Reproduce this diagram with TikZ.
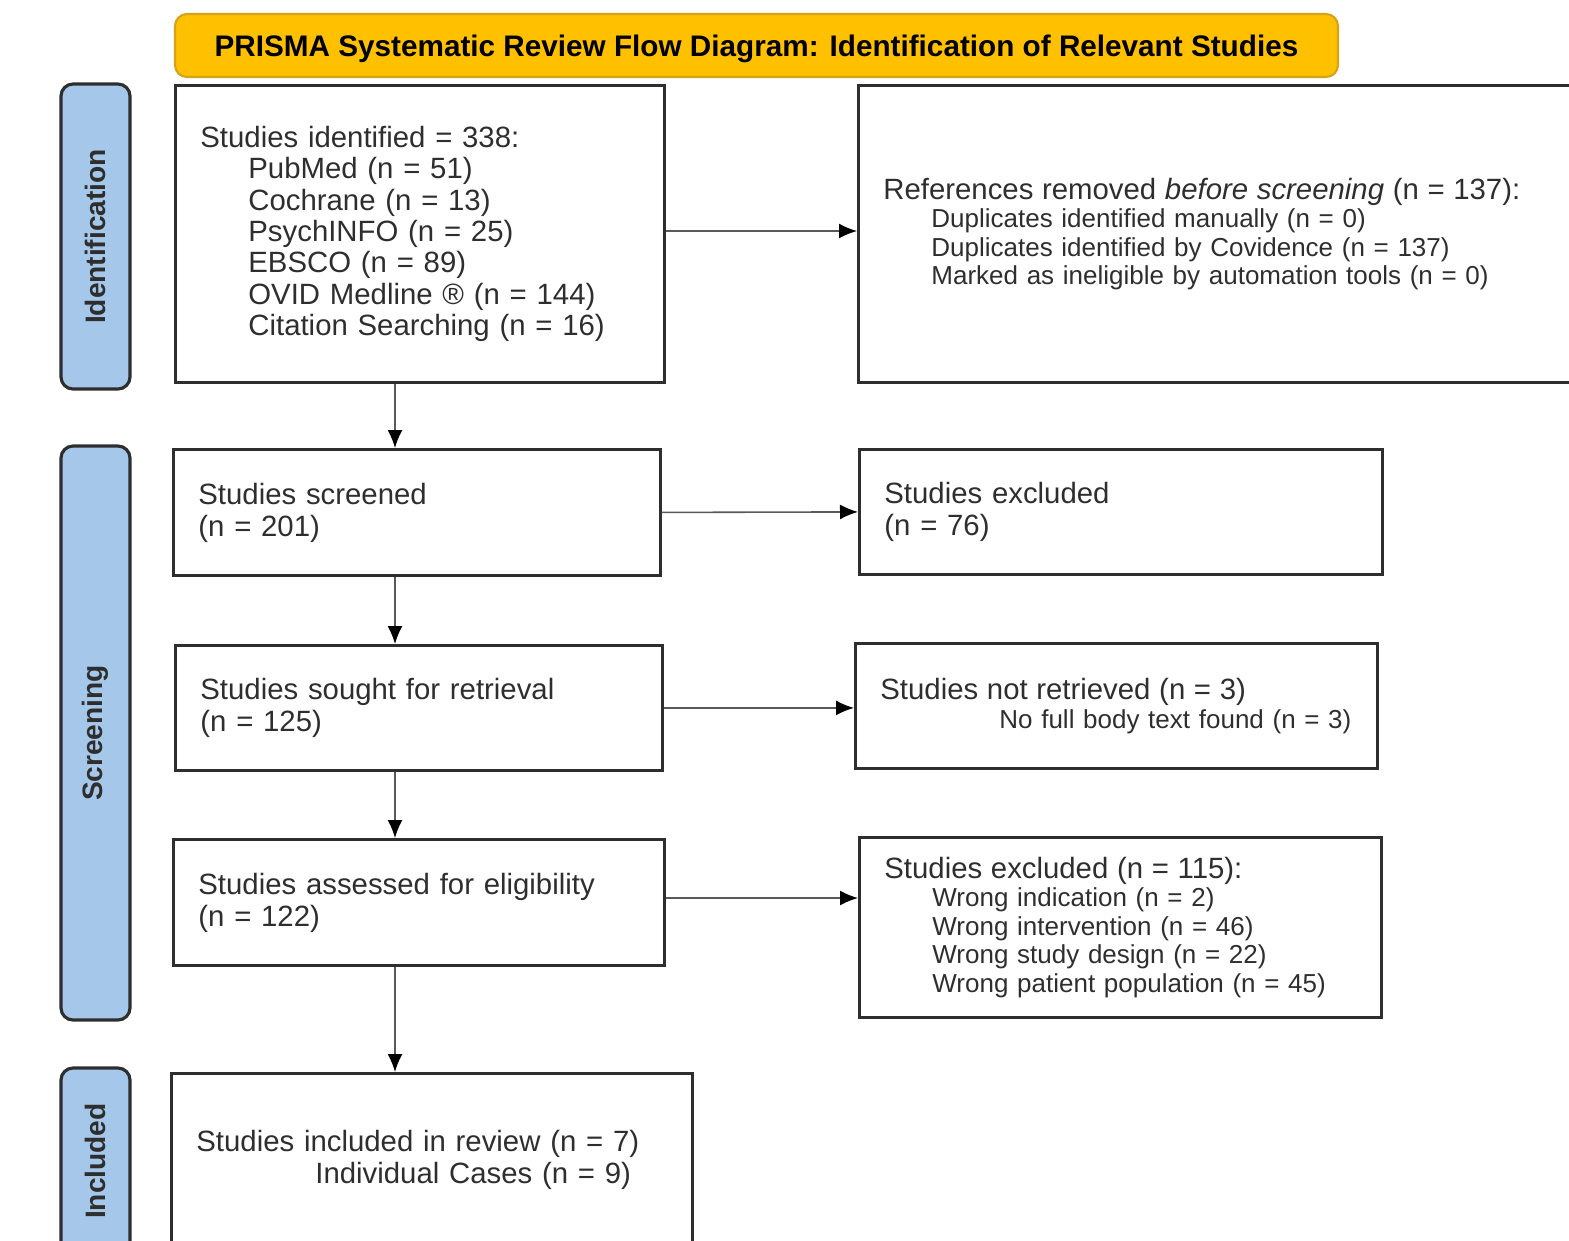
\documentclass[tikz,border=0pt]{standalone}
\usepackage{fontspec}
\setmainfont{Liberation Sans}
\usetikzlibrary{arrows.meta,positioning,calc}
\definecolor{prismagold}{HTML}{FFC000}
\definecolor{goldedge}{HTML}{D6A21A}
\definecolor{phaseblue}{HTML}{A5C8EA}
\definecolor{inkgray}{HTML}{2E2E2E}
\newcommand{\mainsize}{\fontsize{8.35}{9.1}\selectfont}
\newcommand{\subsize}{\fontsize{7.4}{8.1}\selectfont}
\newcommand{\ind}{\hspace*{0.48cm}}
\tikzset{
  box/.style={draw=inkgray, line width=0.8pt, anchor=north west, align=left,
    inner xsep=0.25cm, inner ysep=0pt, text=inkgray},
  phase/.style={draw=inkgray, line width=0.9pt, fill=phaseblue, rounded corners=0.12cm,
    rotate=90, minimum height=0.69cm, inner sep=0pt, text=inkgray,
    font=\bfseries\fontsize{8}{9}\selectfont},
  flow/.style={draw=gray!70!black, line width=0.45pt, -{Latex[length=0.18cm,width=0.15cm,black]}},
}
\begin{document}
\begin{tikzpicture}
    \useasboundingbox (0,0) rectangle (15.69,-12.40);
    \clip (0,0) rectangle (15.69,-12.40);
    % title bar
    \node[draw=goldedge, line width=0.6pt, fill=prismagold, rounded corners=0.12cm,
      minimum width=11.63cm, minimum height=0.63cm, text depth=0pt,
      font=\bfseries\fontsize{8.45}{9}\selectfont]
      (title) at (7.565,-0.455) {PRISMA Systematic Review Flow Diagram: Identification of Relevant Studies};
    % phase bars
    \node[phase, minimum width=3.05cm] (idphase) at (0.955,-2.365) {Identification};
    \node[phase, minimum width=5.74cm] (scphase) at (0.955,-7.33) {Screening};
    \node[phase, minimum width=1.86cm] (inphase) at (0.955,-11.61) {Included};
    % left column
    \node[box, minimum width=4.89cm, minimum height=2.97cm, text width=4.39cm, font=\fontsize{8.35}{8.96}\selectfont]
      (ident) at (1.74,-0.84) {Studies identified = 338:\\
      \ind PubMed (n = 51)\\
      \ind Cochrane (n = 13)\\
      \ind PsychINFO (n = 25)\\
      \ind EBSCO (n = 89)\\
      \ind OVID Medline \textregistered\ (n = 144)\\
      \ind Citation Searching (n = 16)};
    \node[box, minimum width=4.87cm, minimum height=1.26cm, text width=4.37cm, font=\mainsize]
      (screened) at (1.72,-4.48) {Studies screened\\(n = 201)};
    \node[box, minimum width=4.87cm, minimum height=1.25cm, text width=4.37cm, font=\mainsize]
      (sought) at (1.74,-6.44) {Studies sought for retrieval\\(n = 125)};
    \node[box, minimum width=4.91cm, minimum height=1.26cm, text width=4.41cm, font=\mainsize]
      (assessed) at (1.72,-8.38) {Studies assessed for eligibility\\(n = 122)};
    \node[box, minimum width=5.21cm, minimum height=1.73cm, text width=4.71cm, font=\mainsize]
      (included) at (1.70,-10.72) {Studies included in review (n = 7)\\
      \hspace*{1.19cm}Individual Cases (n = 9)};
    % right column
    \node[box, minimum width=8.0cm, minimum height=2.97cm, text width=7.5cm, font=\subsize]
      (removed) at (8.57,-0.84) {{\mainsize References removed \textit{before screening} (n = 137):}\\
      \ind Duplicates identified manually (n = 0)\\
      \ind Duplicates identified by Covidence (n = 137)\\
      \ind Marked as ineligible by automation tools (n = 0)};
    \node[box, minimum width=5.23cm, minimum height=1.25cm, text width=4.73cm, font=\mainsize]
      (excla) at (8.58,-4.48) {Studies excluded\\(n = 76)};
    \node[box, minimum width=5.22cm, minimum height=1.25cm, text width=4.72cm, font=\subsize]
      (notret) at (8.54,-6.42) {{\mainsize Studies not retrieved (n = 3)}\\
      \hspace*{1.19cm}\mbox{No full body text found (n = 3)}};
    \node[box, minimum width=5.22cm, minimum height=1.80cm, text width=4.72cm, font=\subsize]
      (exclb) at (8.58,-8.36) {{\mainsize Studies excluded (n = 115):}\\
      \ind Wrong indication (n = 2)\\
      \ind Wrong intervention (n = 46)\\
      \ind Wrong study design (n = 22)\\
      \ind Wrong patient population (n = 45)};
    % connectors
    \coordinate (spine) at (3.95,0);
    \draw[flow] (ident.south -| spine) -- (screened.north -| spine);
    \draw[flow] (screened.south -| spine) -- (sought.north -| spine);
    \draw[flow] (sought.south -| spine) -- (assessed.north -| spine);
    \draw[flow] (assessed.south -| spine) -- (included.north -| spine);
    \coordinate (idrow) at (0,-2.31);
    \draw[flow] (ident.east |- idrow) -- (removed.west |- idrow);
    \draw[flow] (screened.east) -- (excla.west);
    \draw[flow] (sought.east) -- (sought.east -| notret.west);
    \coordinate (exrow) at (0,-8.98);
    \draw[flow] (assessed.east |- exrow) -- (exclb.west |- exrow);
\end{tikzpicture}
\end{document}
